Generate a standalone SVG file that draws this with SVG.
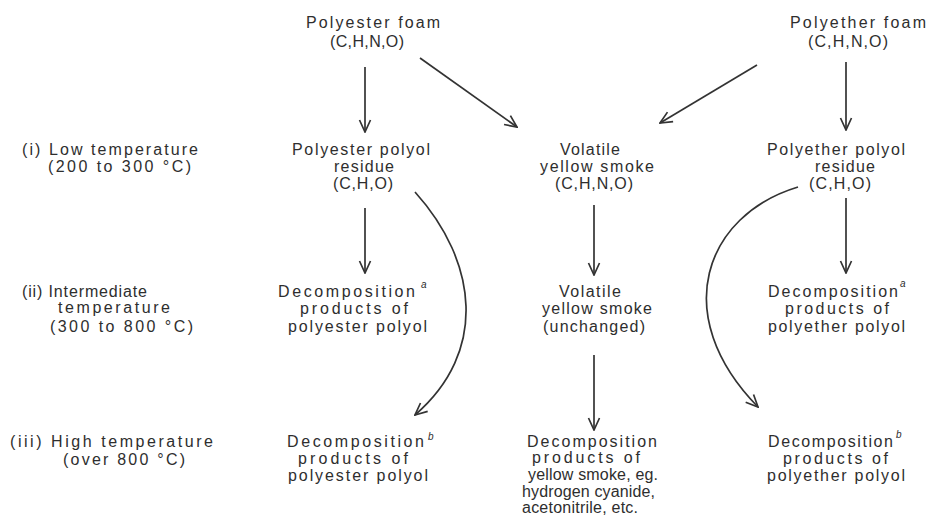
<svg xmlns="http://www.w3.org/2000/svg" width="929" height="519" viewBox="0 0 929 519">
<defs>
<marker id="ah" viewBox="0 0 14 14" refX="13" refY="7" markerWidth="14" markerHeight="14" markerUnits="userSpaceOnUse" orient="auto">
<path d="M1,1.5 L13,7 L1,12.5" fill="none" stroke="#333333" stroke-width="1.7"/>
</marker>
<style>
text{font-family:"Liberation Sans","DejaVu Sans",sans-serif;font-size:16px;fill:#2e2e2e}
.sup{font-size:10px;font-style:italic}
.c{fill:none;stroke:#333333;stroke-width:1.7;marker-end:url(#ah)}
</style>
</defs>
<rect width="929" height="519" fill="#ffffff"/>

<g id="labels">
<text x="22" y="155" textLength="176" lengthAdjust="spacing">(i) Low temperature</text>
<text x="48" y="172" textLength="143" lengthAdjust="spacing">(200 to 300 °C)</text>
<text x="22" y="297" textLength="125" lengthAdjust="spacing">(ii) Intermediate</text>
<text x="58" y="313" textLength="112" lengthAdjust="spacing">temperature</text>
<text x="50" y="332" textLength="143" lengthAdjust="spacing">(300 to 800 °C)</text>
<text x="10" y="447" textLength="203" lengthAdjust="spacing">(iii) High temperature</text>
<text x="63" y="465" textLength="122" lengthAdjust="spacing">(over 800 °C)</text>
</g>

<g id="polyester-foam">
<text x="306" y="28" textLength="134" lengthAdjust="spacing">Polyester foam</text>
<text x="330" y="47" textLength="74" lengthAdjust="spacing">(C,H,N,O)</text>
</g>
<g id="polyether-foam">
<text x="790" y="28" textLength="136" lengthAdjust="spacing">Polyether foam</text>
<text x="808" y="47" textLength="80" lengthAdjust="spacing">(C,H,N,O)</text>
</g>

<g id="polyester-residue">
<text x="292" y="155" textLength="138" lengthAdjust="spacing">Polyester polyol</text>
<text x="334" y="172" textLength="60" lengthAdjust="spacing">residue</text>
<text x="333" y="189" textLength="60" lengthAdjust="spacing">(C,H,O)</text>
</g>
<g id="volatile-smoke">
<text x="560" y="155" textLength="60" lengthAdjust="spacing">Volatile</text>
<text x="540" y="172" textLength="114" lengthAdjust="spacing">yellow smoke</text>
<text x="555" y="189" textLength="78" lengthAdjust="spacing">(C,H,N,O)</text>
</g>
<g id="polyether-residue">
<text x="767" y="155" textLength="138" lengthAdjust="spacing">Polyether polyol</text>
<text x="815" y="172" textLength="60" lengthAdjust="spacing">residue</text>
<text x="809" y="189" textLength="62" lengthAdjust="spacing">(C,H,O)</text>
</g>

<g id="polyester-decomp-a">
<text x="278" y="297" textLength="137" lengthAdjust="spacing">Decomposition</text>
<text class="sup" x="421" y="288">a</text>
<text x="300" y="314" textLength="108" lengthAdjust="spacing">products of</text>
<text x="288" y="332" textLength="139" lengthAdjust="spacing">polyester polyol</text>
</g>
<g id="volatile-unchanged">
<text x="559" y="297" textLength="62" lengthAdjust="spacing">Volatile</text>
<text x="542" y="314" textLength="110" lengthAdjust="spacing">yellow smoke</text>
<text x="543" y="332" textLength="102" lengthAdjust="spacing">(unchanged)</text>
</g>
<g id="polyether-decomp-a">
<text x="768" y="297" textLength="130" lengthAdjust="spacing">Decomposition</text>
<text class="sup" x="900" y="287">a</text>
<text x="785" y="314" textLength="104" lengthAdjust="spacing">products of</text>
<text x="768" y="332" textLength="137" lengthAdjust="spacing">polyether polyol</text>
</g>

<g id="polyester-decomp-b">
<text x="287" y="447" textLength="137" lengthAdjust="spacing">Decomposition</text>
<text class="sup" x="428" y="440">b</text>
<text x="298" y="464" textLength="110" lengthAdjust="spacing">products of</text>
<text x="288" y="481" textLength="140" lengthAdjust="spacing">polyester polyol</text>
</g>
<g id="smoke-decomp">
<text x="527" y="447" textLength="130" lengthAdjust="spacing">Decomposition</text>
<text x="532" y="463" textLength="108" lengthAdjust="spacing">products of</text>
<text x="528" y="480" textLength="130" lengthAdjust="spacing">yellow smoke, eg.</text>
<text x="522" y="497" textLength="133" lengthAdjust="spacing">hydrogen cyanide,</text>
<text x="522" y="513" textLength="116" lengthAdjust="spacing">acetonitrile, etc.</text>
</g>
<g id="polyether-decomp-b">
<text x="768" y="447" textLength="125" lengthAdjust="spacing">Decomposition</text>
<text class="sup" x="896" y="438">b</text>
<text x="783" y="464" textLength="105" lengthAdjust="spacing">products of</text>
<text x="767" y="481" textLength="138" lengthAdjust="spacing">polyether polyol</text>
</g>

<g id="connectors">
<path class="c" d="M365,67 L365,132"/>
<path class="c" d="M420,58 L517,127"/>
<path class="c" d="M757,65 L660,123"/>
<path class="c" d="M846,62 L846,130"/>
<path class="c" d="M365,208 L365,273"/>
<path class="c" d="M594,205 L594,275"/>
<path class="c" d="M846,198 L846,273"/>
<path class="c" d="M594,355 L594,430"/>
<path class="c" d="M415,192 C478,262 488,352 415,415"/>
<path class="c" d="M798,187 C705,215 668,315 758,407"/>
</g>
</svg>
